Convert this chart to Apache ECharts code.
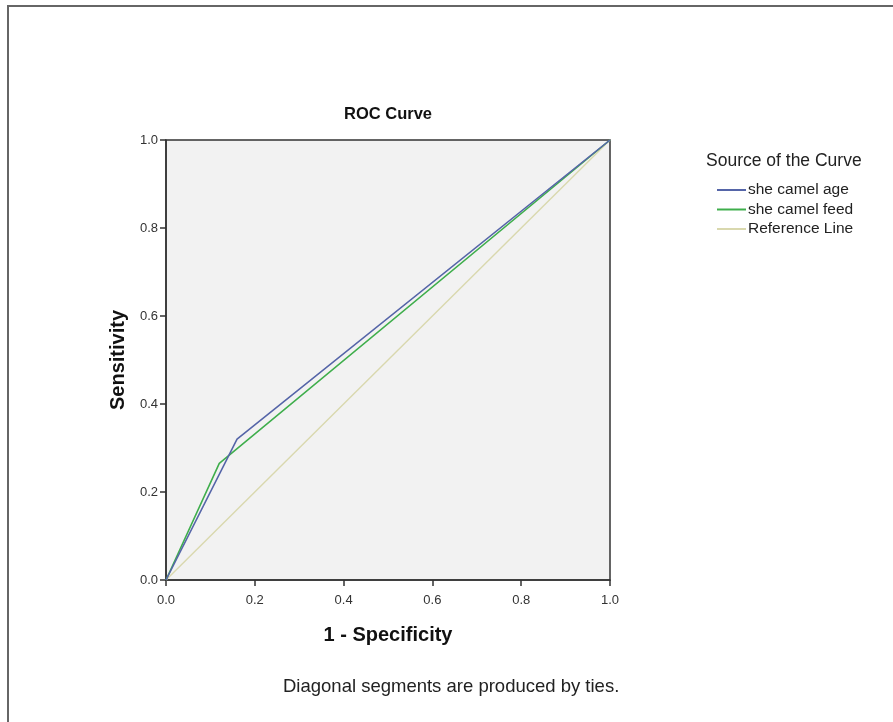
<!DOCTYPE html>
<html>
<head>
<meta charset="utf-8">
<script src="https://cdn.jsdelivr.net/npm/echarts@6/dist/echarts.min.js"></script>
<style>html,body{margin:0;padding:0;background:#fff;}#c{width:893px;height:722px;}</style>
</head>
<body>
<div id="c"></div>
<script>
const seriesNames = ['she camel age', 'she camel feed', 'Reference Line'];
const ageFpr = [0, 0.16, 1];
const ageTpr = [0, 0.32, 1];
const feedFpr = [0, 0.12, 1];
const feedTpr = [0, 0.265, 1];
const refFpr = [0, 1];
const refTpr = [0, 1];
const tickValues = [0, 0.2, 0.4, 0.6, 0.8, 1.0];

function pairs(xs, ys) { return xs.map((x, i) => [x, ys[i]]); }

const FONT = 'Liberation Sans, Arial, sans-serif';
const chart = echarts.init(document.getElementById('c'));
const axisCommon = {
  type: 'value', min: tickValues[0], max: tickValues[tickValues.length - 1], interval: 0.2,
  axisLine: { show: true, lineStyle: { color: '#333', width: 1.5 } },
  axisTick: { show: true, inside: false, length: 6, lineStyle: { color: '#333', width: 1.5 } },
  splitLine: { show: false },
  nameLocation: 'middle',
  nameTextStyle: { color: '#111', fontSize: 20, fontWeight: 'bold', fontFamily: FONT }
};
chart.setOption({
  animation: false,
  backgroundColor: '#fff',
  grid: { left: 166, top: 140, width: 444, height: 440, show: true,
    backgroundColor: '#f2f2f2', borderColor: '#333', borderWidth: 1.5 },
  xAxis: Object.assign({}, axisCommon, { name: '1 - Specificity', nameGap: 45,
    axisLabel: { color: '#333', fontSize: 13, fontFamily: FONT, margin: 14, formatter: v => v.toFixed(1) } }),
  yAxis: Object.assign({}, axisCommon, { name: 'Sensitivity', nameGap: 38,
    axisLabel: { color: '#333', fontSize: 13, fontFamily: FONT, margin: 8, formatter: v => v.toFixed(1) } }),
  legend: {
    orient: 'vertical', left: 717, top: 182, padding: 0,
    itemWidth: 29, itemHeight: 2, itemGap: 3.5, icon: 'rect',
    textStyle: { fontSize: 15.5, lineHeight: 16, color: '#222', fontFamily: FONT, padding: [0, 0, 0, -3] },
    data: seriesNames
  },
  graphic: [
    { type: 'rect', shape: { x: 8, y: 6, width: 1000, height: 1000 },
      style: { fill: 'none', stroke: '#666', lineWidth: 2 }, silent: true },
    { type: 'text', x: 388, y: 114, style: { text: 'ROC Curve', fontSize: 16.5, fontWeight: 'bold',
      fill: '#111', fontFamily: FONT, align: 'center', verticalAlign: 'middle' } },
    { type: 'text', left: 706, top: 152, style: { text: 'Source of the Curve', fontSize: 17.5,
      fill: '#222', fontFamily: FONT } },
    { type: 'text', left: 283, top: 677, style: { text: 'Diagonal segments are produced by ties.', fontSize: 18.5,
      fill: '#222', fontFamily: FONT } }
  ],
  series: [
    { name: seriesNames[0], type: 'line', data: pairs(ageFpr, ageTpr), showSymbol: false, z: 4,
      lineStyle: { color: '#5565a8', width: 1.6 }, itemStyle: { color: '#5565a8' } },
    { name: seriesNames[1], type: 'line', data: pairs(feedFpr, feedTpr), showSymbol: false, z: 3,
      lineStyle: { color: '#3fae4c', width: 1.6 }, itemStyle: { color: '#3fae4c' } },
    { name: seriesNames[2], type: 'line', data: pairs(refFpr, refTpr), showSymbol: false, z: 2,
      lineStyle: { color: '#d9d8ae', width: 1.4 }, itemStyle: { color: '#d9d8ae' } }
  ]
});
</script>
</body>
</html>
